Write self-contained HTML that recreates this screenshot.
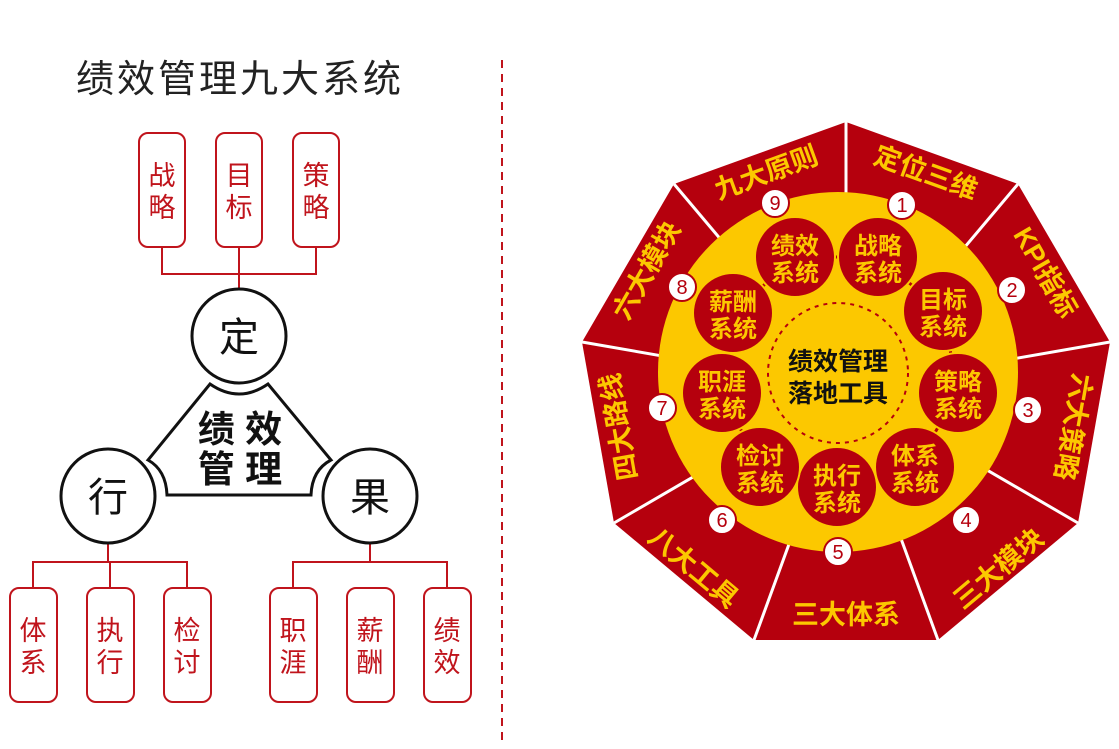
<!DOCTYPE html>
<html><head><meta charset="utf-8"><style>
html,body{margin:0;padding:0;background:#fff;}
svg{display:block;}
text{font-family:"Liberation Sans","Noto Sans CJK SC",sans-serif;}
</style></head><body>
<svg width="1119" height="749" viewBox="0 0 1119 749" xmlns="http://www.w3.org/2000/svg">
<rect width="1119" height="749" fill="#fff"/>
<text x="240" y="92" font-size="38" text-anchor="middle" fill="#222" letter-spacing="3">绩效管理九大系统</text>
<line x1="502" y1="60" x2="502" y2="740" stroke="#c0141c" stroke-width="2" stroke-dasharray="8,6"/>
<g stroke="#c0141c" stroke-width="2" fill="none">
<path d="M162,247 V274 H316 V247 M239,247 V291"/>
<path d="M108,544 V562 M33,588 V562 H187 V588 M110,562 V588"/>
<path d="M370,544 V562 M293,588 V562 H447 V588"/>
</g>
<g stroke="#c0141c" stroke-width="2" fill="#fff">
<rect x="139" y="133" width="46" height="114" rx="9"/>
<rect x="216" y="133" width="46" height="114" rx="9"/>
<rect x="293" y="133" width="46" height="114" rx="9"/>
<rect x="10" y="588" width="47" height="114" rx="9"/>
<rect x="87" y="588" width="47" height="114" rx="9"/>
<rect x="164" y="588" width="47" height="114" rx="9"/>
<rect x="270" y="588" width="47" height="114" rx="9"/>
<rect x="347" y="588" width="47" height="114" rx="9"/>
<rect x="424" y="588" width="47" height="114" rx="9"/>
</g>
<g fill="#c0141c" font-size="27" text-anchor="middle">
<text x="162" y="185">战</text><text x="162" y="217">略</text>
<text x="239" y="185">目</text><text x="239" y="217">标</text>
<text x="316" y="185">策</text><text x="316" y="217">略</text>
<text x="33" y="640">体</text><text x="33" y="672">系</text>
<text x="110" y="640">执</text><text x="110" y="672">行</text>
<text x="187" y="640">检</text><text x="187" y="672">讨</text>
<text x="293" y="640">职</text><text x="293" y="672">涯</text>
<text x="370" y="640">薪</text><text x="370" y="672">酬</text>
<text x="447" y="640">绩</text><text x="447" y="672">效</text>
</g>
<path d="M210,384 Q239,404 268,384 L331,460 Q312,470 311,495 L167,495 Q166,470 148,460 Z" fill="#fff" stroke="#111" stroke-width="3"/>
<g stroke="#111" stroke-width="3" fill="#fff">
<circle cx="239" cy="336" r="47"/>
<circle cx="108" cy="496" r="47"/>
<circle cx="370" cy="496" r="47"/>
</g>
<g fill="#111" font-size="40" text-anchor="middle">
<text x="239" y="351">定</text><text x="108" y="511">行</text><text x="370" y="511">果</text>
</g>
<g fill="#111" font-size="37" font-weight="bold" text-anchor="middle">
<text x="240" y="442">绩 效</text><text x="240" y="482">管 理</text>
</g>

<polygon points="846,122 1018,184 1110,342 1078,523 938,640 754,640 614,523 582,342 674,184" fill="#b5000d"/>
<g stroke="#fff" stroke-width="3">
<line x1="846" y1="388" x2="846" y2="122"/>
<line x1="846" y1="388" x2="1018" y2="184"/>
<line x1="846" y1="388" x2="1110" y2="342"/>
<line x1="846" y1="388" x2="1078" y2="523"/>
<line x1="846" y1="388" x2="938" y2="640"/>
<line x1="846" y1="388" x2="754" y2="640"/>
<line x1="846" y1="388" x2="614" y2="523"/>
<line x1="846" y1="388" x2="582" y2="342"/>
<line x1="846" y1="388" x2="674" y2="184"/>
</g>
<circle cx="838" cy="372" r="180" fill="#fcc800"/>
<circle cx="838" cy="373" r="70" fill="none" stroke="#b5000d" stroke-width="2" stroke-dasharray="4,5"/>
<polygon points="878,257 943,311 958,393 915,467 837,487 760,467 722,393 733,313 795,257" fill="none" stroke="#b5000d" stroke-width="3"/>
<g fill="#b5000d" stroke="#fcc800" stroke-width="2">
<circle cx="878" cy="257" r="40"/><circle cx="943" cy="311" r="40"/><circle cx="958" cy="393" r="40"/>
<circle cx="915" cy="467" r="40"/><circle cx="837" cy="487" r="40"/><circle cx="760" cy="467" r="40"/>
<circle cx="722" cy="393" r="40"/><circle cx="733" cy="313" r="40"/><circle cx="795" cy="257" r="40"/>
</g>
<g fill="#fcc800" font-size="24" font-weight="bold" text-anchor="middle">
<text x="878" y="254">战略</text><text x="878" y="281">系统</text>
<text x="943" y="308">目标</text><text x="943" y="335">系统</text>
<text x="958" y="390">策略</text><text x="958" y="417">系统</text>
<text x="915" y="464">体系</text><text x="915" y="491">系统</text>
<text x="837" y="484">执行</text><text x="837" y="511">系统</text>
<text x="760" y="464">检讨</text><text x="760" y="491">系统</text>
<text x="722" y="390">职涯</text><text x="722" y="417">系统</text>
<text x="733" y="310">薪酬</text><text x="733" y="337">系统</text>
<text x="795" y="254">绩效</text><text x="795" y="281">系统</text>
</g>
<g fill="#111" font-size="25" font-weight="bold" text-anchor="middle">
<text x="838" y="370">绩效管理</text><text x="838" y="402">落地工具</text>
</g>
<g fill="#fff" stroke="#b5000d" stroke-width="2">
<circle cx="902" cy="205" r="14"/><circle cx="1012" cy="290" r="14"/><circle cx="1028" cy="410" r="14"/>
<circle cx="966" cy="520" r="14"/><circle cx="838" cy="552" r="14"/><circle cx="722" cy="520" r="14"/>
<circle cx="662" cy="408" r="14"/><circle cx="682" cy="287" r="14"/><circle cx="775" cy="203" r="14"/>
</g>
<g fill="#b5000d" font-size="20" text-anchor="middle">
<text x="902" y="212">1</text><text x="1012" y="297">2</text><text x="1028" y="417">3</text>
<text x="966" y="527">4</text><text x="838" y="559">5</text><text x="722" y="527">6</text>
<text x="662" y="415">7</text><text x="682" y="294">8</text><text x="775" y="210">9</text>
</g>
<g fill="#fcc800" font-size="27" font-weight="bold" text-anchor="middle">
<text transform="translate(926,172) rotate(20)" y="10">定位三维</text>
<text transform="translate(1046,272) rotate(60)" y="10">KPI指标</text>
<text transform="translate(1074,427) rotate(100)" y="10">六大策略</text>
<text transform="translate(998,568) rotate(-40)" y="10">三大模块</text>
<text transform="translate(846,614)" y="10">三大体系</text>
<text transform="translate(694,567) rotate(40)" y="10">八大工具</text>
<text transform="translate(618,427) rotate(-100)" y="10">四大路线</text>
<text transform="translate(646,270) rotate(-60)" y="10">六大模块</text>
<text transform="translate(766,172) rotate(-20)" y="10">九大原则</text>
</g>
</svg>
</body></html>
